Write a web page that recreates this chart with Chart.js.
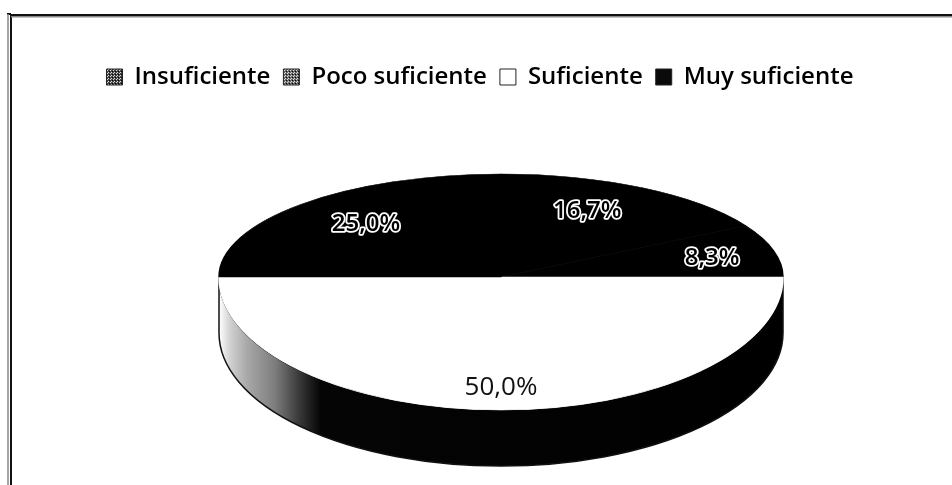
<!DOCTYPE html>
<html><head><meta charset="utf-8">
<style>html,body{margin:0;padding:0;background:#fff}canvas{display:block}</style>
<script src="https://cdn.jsdelivr.net/npm/chart.js@4"></script>
</head><body>
<div style="width:952px;height:485px"><canvas id="c" width="952" height="485"></canvas></div>
<script>
const categories = ['Insuficiente', 'Poco suficiente', 'Suficiente', 'Muy suficiente'];
const values = [16.7, 8.3, 50.0, 25.0];
const sliceColors = ['#000000', '#000000', '#ffffff', '#000000'];
const legendTones = ['#444444', '#666666', '#ffffff', '#0a0a0a'];
const labelReachX = [0.61, 0.775, 0, 0.677];
const labelReachY = [0.74, 0.71, 0.835, 0.73];

const CX = 501, CY = 277, RX = 282, RY_UP = 103, RY_DOWN = 133, DEPTH = 56;
const FAMILY = '"Open Sans", sans-serif';

function dither(tone) {
  if (tone === '#ffffff' || tone === '#0a0a0a') return tone;
  const p = document.createElement('canvas');
  p.width = p.height = 3;
  const g = p.getContext('2d');
  g.fillStyle = tone; g.fillRect(0, 0, 3, 3);
  g.fillStyle = '#dddddd'; g.fillRect(0, 0, 1, 1); g.fillRect(2, 1, 1, 1);
  g.fillStyle = '#000000'; g.fillRect(1, 2, 1, 1);
  return document.getElementById('c').getContext('2d').createPattern(p, 'repeat');
}

const pieFace = {
  id: 'pieFace',
  beforeDatasetsDraw(chart) {
    const ctx = chart.ctx, W = chart.width, H = chart.height;
    const arcs = chart.getDatasetMeta(0).data;
    const wall = ctx.createLinearGradient(CX - RX, 0, CX + RX, 0);
    wall.addColorStop(0, '#ffffff');
    wall.addColorStop(0.02, '#d0d0d0');
    wall.addColorStop(0.05, '#a8a8a8');
    wall.addColorStop(0.10, '#7c7c7c');
    wall.addColorStop(0.14, '#3c3c3c');
    wall.addColorStop(0.18, '#050505');
    wall.addColorStop(1, '#000000');
    arcs.forEach((a, i) => {
      if (sliceColors[i] !== '#ffffff') return;
      ctx.save();
      ctx.beginPath();
      ctx.ellipse(CX, CY, RX, RY_DOWN, 0, a.startAngle, a.endAngle);
      ctx.ellipse(CX, CY + DEPTH, RX, RY_DOWN, 0, a.endAngle, a.startAngle, true);
      ctx.closePath();
      ctx.fillStyle = wall;
      ctx.fill();
      ctx.strokeStyle = '#111';
      ctx.lineWidth = 1.5;
      ctx.stroke();
      ctx.restore();
    });
    [[0, CY, RY_UP], [CY, H - CY, RY_DOWN]].forEach(([y0, h, ry]) => {
      arcs.forEach(a => {
        const R = a.outerRadius;
        ctx.save();
        ctx.beginPath();
        ctx.rect(0, y0, W, h);
        ctx.clip();
        ctx.translate(CX, CY);
        ctx.scale(RX / R, ry / R);
        ctx.translate(-a.x, -a.y);
        a.draw(ctx);
        ctx.restore();
      });
    });
    return false;
  },
  afterDraw(chart) {
    const ctx = chart.ctx;
    ctx.save();
    ctx.strokeStyle = '#111';
    ctx.lineWidth = 2;
    ctx.beginPath();
    ctx.moveTo(11, 485); ctx.lineTo(11, 15); ctx.lineTo(952, 15);
    ctx.moveTo(7, 14); ctx.lineTo(11, 14);
    ctx.stroke();
    ctx.strokeStyle = '#888';
    ctx.lineWidth = 1.5;
    ctx.beginPath();
    ctx.moveTo(8, 485); ctx.lineTo(8, 14);
    ctx.moveTo(11, 16.7); ctx.lineTo(952, 16.7);
    ctx.stroke();
    ctx.restore();

    const arcs = chart.getDatasetMeta(0).data;
    ctx.save();
    ctx.textAlign = 'center';
    ctx.textBaseline = 'middle';
    ctx.lineJoin = 'round';
    arcs.forEach((a, i) => {
      const mid = (a.startAngle + a.endAngle) / 2;
      const ry = Math.sin(mid) > 0 ? RY_DOWN : RY_UP;
      const x = CX + Math.cos(mid) * RX * labelReachX[i];
      const y = CY + Math.sin(mid) * ry * labelReachY[i];
      const t = values[i].toFixed(1).replace('.', ',') + '%';
      if (sliceColors[i] !== '#ffffff') {
        ctx.font = '600 24px ' + FAMILY;
        ctx.strokeStyle = '#fff';
        ctx.lineWidth = 3.5;
        ctx.strokeText(t, x, y);
        ctx.fillStyle = '#000000';
      } else {
        ctx.font = '400 26px ' + FAMILY;
        ctx.fillStyle = '#111';
      }
      ctx.fillText(t, x, y);
    });
    ctx.restore();
  }
};

new Chart(document.getElementById('c'), {
  type: 'pie',
  data: {
    labels: categories,
    datasets: [{ data: values, backgroundColor: sliceColors, borderColor: sliceColors, borderWidth: 1 }]
  },
  options: {
    responsive: false,
    animation: false,
    layout: { padding: { top: 52, left: 8 } },
    plugins: {
      tooltip: { enabled: false },
      legend: {
        position: 'top',
        labels: {
          boxWidth: 16, boxHeight: 16, padding: 13,
          color: '#111',
          font: { family: FAMILY, size: 24, weight: '600' },
          generateLabels: chart => categories.map((c, i) => ({
            text: c, fillStyle: dither(legendTones[i]), strokeStyle: '#222', lineWidth: 1, index: i
          }))
        }
      }
    }
  },
  plugins: [pieFace]
});
</script>
</body></html>
